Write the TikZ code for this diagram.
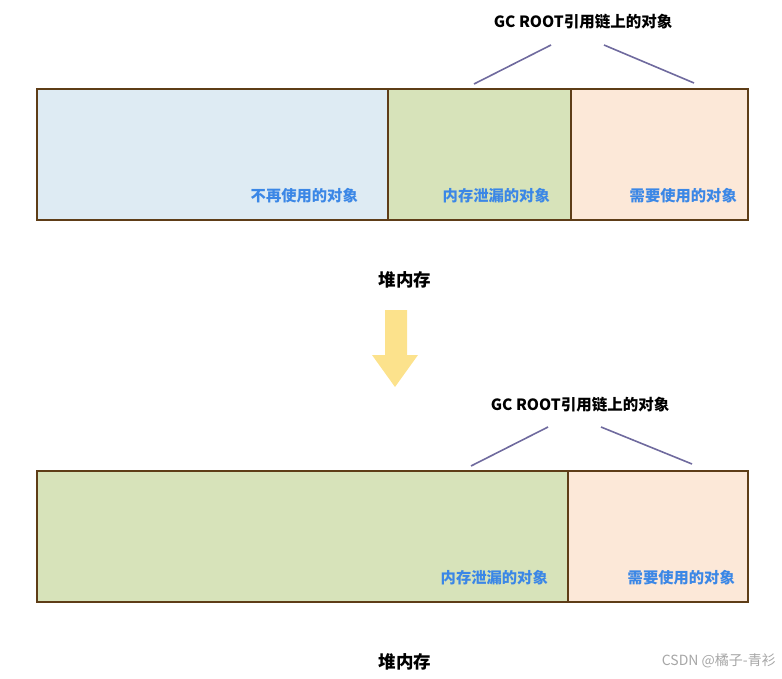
\documentclass[tikz,border=0pt]{standalone}
\usepackage{fontspec}
\setmainfont{Noto Sans CJK SC}
\definecolor{boxborder}{HTML}{5E3D17}
\definecolor{bluefill}{HTML}{DEEBF3}
\definecolor{greenfill}{HTML}{D7E3BA}
\definecolor{peachfill}{HTML}{FCE8D8}
\definecolor{labelblue}{HTML}{3B87E6}
\definecolor{linepurple}{HTML}{6F6A9E}
\definecolor{arrowyellow}{HTML}{FCE28C}
\begin{document}
\begin{tikzpicture}[x=1pt,y=-1pt,
  seg/.style={draw=boxborder,line width=1.8pt,anchor=north west,inner sep=0pt,outer sep=0pt},
  lbl/.style={font=\bfseries\fontsize{15.3}{15.3}\selectfont,text=labelblue,inner sep=0pt},
  title/.style={font=\bfseries\fontsize{15.5}{15.5}\selectfont,text=black,inner sep=0pt},
  heap/.style={font=\bfseries\fontsize{17.5}{17.5}\selectfont,text=black,inner sep=0pt},
  conn/.style={draw=linepurple,line width=1.6pt}]
\useasboundingbox (0,0) rectangle (782,679);
% top bar
\node[seg,fill=bluefill,minimum width=351pt,minimum height=131pt] (a1) at (37,89) {};
\node[seg,fill=greenfill,minimum width=183pt,minimum height=131pt] (a2) at (388,89) {};
\node[seg,fill=peachfill,minimum width=177pt,minimum height=131pt] (a3) at (571,89) {};
\node[lbl,anchor=east] (t1) at (358,196) {不再使用的对象};
\node[lbl,anchor=east] (t2) at (550,196) {内存泄漏的对象};
\node[lbl,anchor=east] (t3) at (737,196) {需要使用的对象};
\node[title] (g1) at (583,22) {GC ROOT引用链上的对象};
\coordinate (g1l) at (551,45);
\coordinate (g1r) at (604,45);
\coordinate (b1l) at (474,84);
\coordinate (b1r) at (694,83);
\draw[conn] (g1l) -- (b1l);
\draw[conn] (g1r) -- (b1r);
\node[heap] (h1) at (405,280) {堆内存};
% arrow
\fill[arrowyellow] (385,310) -- (407,310) -- (407,355) -- (418,355) -- (395,387)
  -- (372,355) -- (385,355) -- cycle;
% bottom bar
\node[seg,fill=greenfill,minimum width=531pt,minimum height=131pt] (c1) at (37,471) {};
\node[seg,fill=peachfill,minimum width=180pt,minimum height=131pt] (c2) at (568,471) {};
\node[lbl,anchor=east] (u1) at (548,578) {内存泄漏的对象};
\node[lbl,anchor=east] (u2) at (735,578) {需要使用的对象};
\node[title] (g2) at (580,405) {GC ROOT引用链上的对象};
\coordinate (g2l) at (548,427);
\coordinate (g2r) at (601,427);
\coordinate (b2l) at (471,466);
\coordinate (b2r) at (692,464);
\draw[conn] (g2l) -- (b2l);
\draw[conn] (g2r) -- (b2r);
\node[heap] (h2) at (405,662) {堆内存};
\node[font=\fontsize{14}{14}\selectfont,text=gray!70,inner sep=0pt,anchor=east] (wm) at (776,661) {CSDN @橘子-青衫};
\end{tikzpicture}
\end{document}
